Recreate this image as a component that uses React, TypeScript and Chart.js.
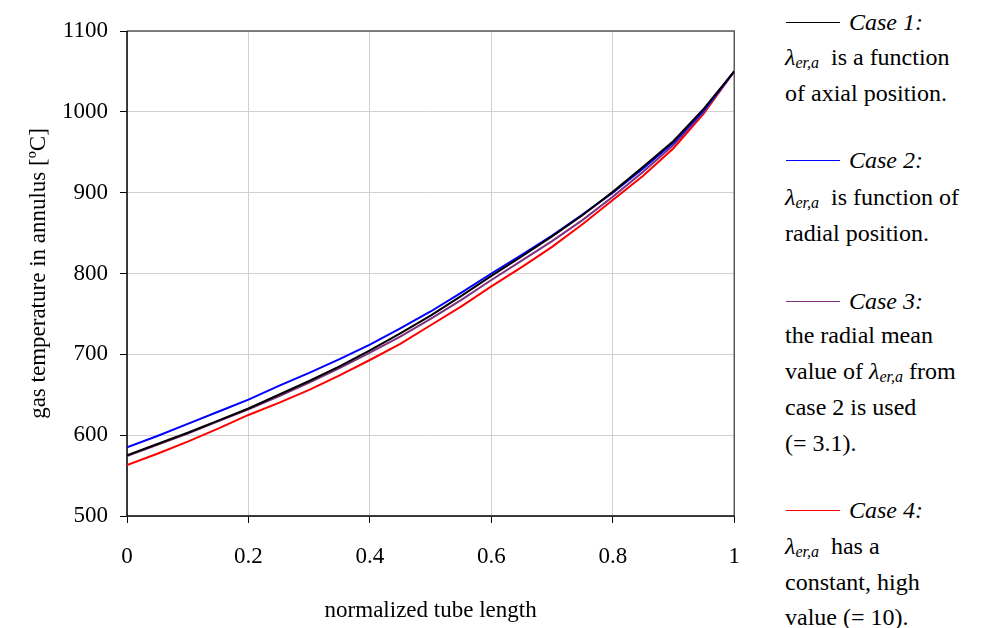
import React, { useEffect, useRef } from "react";
import { Chart, registerables } from "chart.js";

Chart.register(...registerables);

const xPositions = [0, 0.05, 0.1, 0.15, 0.2, 0.25, 0.3, 0.35, 0.4, 0.45, 0.5, 0.55, 0.6, 0.65, 0.7, 0.75, 0.8, 0.85, 0.9, 0.95, 1.0];
const case1 = [575, 589, 603, 618, 633, 650, 667, 685, 705, 726, 748, 772, 797, 821, 846, 872, 901, 932, 964, 1004, 1050];
const case2 = [585, 599, 614, 629, 644, 661, 677, 694, 712, 732, 753, 776, 800, 823, 847, 873, 900, 930, 962, 1002, 1050];
const case3 = [574, 588, 602, 617, 632, 648, 665, 683, 702, 722, 744, 767, 792, 816, 840, 866, 895, 926, 959, 1000, 1050];
const case4 = [563, 577, 592, 608, 625, 640, 656, 674, 693, 713, 736, 759, 784, 808, 833, 861, 891, 921, 955, 998, 1050];
const xTickLabels = ["0", "0.2", "0.4", "0.6", "0.8", "1"];
const yTickLabels = ["500", "600", "700", "800", "900", "1000", "1100"];
const seriesNames = ["Case 1", "Case 2", "Case 3", "Case 4"];
const seriesColors = ["#000000", "#0000ff", "#803080", "#ff0000"];

const FONT = "'Liberation Serif', 'Times New Roman', serif";

const framePlugin = {
  id: "frame",
  beforeDatasetsDraw(chart: any) {
    const { ctx, chartArea: a } = chart;
    ctx.save();
    ctx.lineWidth = 1.5;
    ctx.strokeStyle = "#5a5a5a";
    ctx.beginPath();
    ctx.moveTo(a.left, a.top);
    ctx.lineTo(a.right, a.top);
    ctx.lineTo(a.right, a.bottom);
    ctx.stroke();
    ctx.strokeStyle = "#000";
    ctx.beginPath();
    ctx.moveTo(a.left, a.top);
    ctx.lineTo(a.left, a.bottom);
    ctx.lineTo(a.right, a.bottom);
    ctx.stroke();
    ctx.restore();
  },
};

const Lam = () => (
  <span>
    <i>λ</i>
    <sub style={{ fontSize: "16px", verticalAlign: "-3px", fontStyle: "italic" }}>er,a</sub>
  </span>
);

type Line = { y: number; node: React.ReactNode; sample?: string };

const legendLines: Line[] = [
  { y: 22, sample: seriesColors[0], node: <i>{seriesNames[0]}:</i> },
  { y: 57, node: <><Lam /> &nbsp;is a function</> },
  { y: 93, node: <>of axial position.</> },
  { y: 160, sample: seriesColors[1], node: <i>{seriesNames[1]}:</i> },
  { y: 197, node: <><Lam /> &nbsp;is function of</> },
  { y: 233, node: <>radial position.</> },
  { y: 301, sample: seriesColors[2], node: <i>{seriesNames[2]}:</i> },
  { y: 335, node: <>the radial mean</> },
  { y: 371, node: <>value of <Lam /> from</> },
  { y: 407, node: <>case 2 is used</> },
  { y: 443, node: <>(= 3.1).</> },
  { y: 510, sample: seriesColors[3], node: <i>{seriesNames[3]}:</i> },
  { y: 546, node: <><Lam /> &nbsp;has a</> },
  { y: 582, node: <>constant, high</> },
  { y: 617, node: <>value (= 10).</> },
];

export default function App() {
  const ref = useRef<HTMLCanvasElement | null>(null);
  useEffect(() => {
    document.body.style.margin = "0";
    const series = [case1, case2, case3, case4];
    const chart = new Chart(ref.current as HTMLCanvasElement, {
      type: "line",
      data: {
        datasets: series.map((s, k) => ({
          label: seriesNames[k],
          data: xPositions.map((x, i) => ({ x, y: s[i] })),
          borderColor: seriesColors[k],
          backgroundColor: seriesColors[k],
          borderWidth: 2,
          pointRadius: 0,
          tension: 0,
          fill: false,
        })),
      },
      options: {
        animation: false,
        responsive: false,
        maintainAspectRatio: false,
        layout: { padding: { top: 31, right: 24, left: 0, bottom: 0 } },
        plugins: { legend: { display: false }, tooltip: { enabled: false } },
        scales: {
          x: {
            type: "linear",
            min: 0,
            max: 1,
            afterFit: (s: any) => { s.height = 112; },
            grid: { color: "#d0d0d0", lineWidth: 1, tickLength: 7, tickColor: "#000", z: -1 },
            border: { display: false },
            ticks: {
              stepSize: 0.2,
              padding: 20,
              color: "#000",
              font: { family: FONT, size: 23 },
              maxRotation: 0,
              callback: (_v: any, i: number) => xTickLabels[i],
            },
            title: {
              display: true,
              text: "normalized tube length",
              color: "#000",
              font: { family: FONT, size: 23 },
              padding: { top: 0, bottom: 3 },
            },
          },
          y: {
            type: "linear",
            min: 500,
            max: 1100,
            afterFit: (s: any) => { s.width = 127; },
            grid: { color: "#d0d0d0", lineWidth: 1, tickLength: 7, tickColor: "#000", z: -1 },
            border: { display: false },
            ticks: {
              stepSize: 100,
              padding: 12,
              color: "#000",
              font: { family: FONT, size: 23 },
              callback: (_v: any, i: number) => yTickLabels[i],
            },
            title: {
              display: true,
              text: "gas temperature in annulus [ºC]",
              color: "#000",
              font: { family: FONT, size: 23 },
              padding: { top: 25, bottom: 0 },
            },
          },
        },
      },
      plugins: [framePlugin],
    });
    return () => chart.destroy();
  }, []);

  return (
    <div style={{ position: "absolute", left: 0, top: 0, width: 990, height: 628, background: "#fff", overflow: "hidden" }}>
      <canvas ref={ref} width={760} height={628} style={{ position: "absolute", left: 0, top: 0, width: 760, height: 628 }} />
      {legendLines.map((l, i) =>
        l.sample ? (
          <div key={"s" + i} style={{ position: "absolute", left: 786, top: l.y, width: 54, height: 1, background: l.sample }} />
        ) : null
      )}
      {legendLines.map((l, i) => (
        <div
          key={i}
          style={{
            position: "absolute",
            left: l.sample ? 849 : 785,
            top: l.y - 18,
            height: 36,
            lineHeight: "36px",
            fontFamily: FONT,
            fontSize: 24,
            color: "#000",
            whiteSpace: "nowrap",
          }}
        >
          {l.node}
        </div>
      ))}
    </div>
  );
}
